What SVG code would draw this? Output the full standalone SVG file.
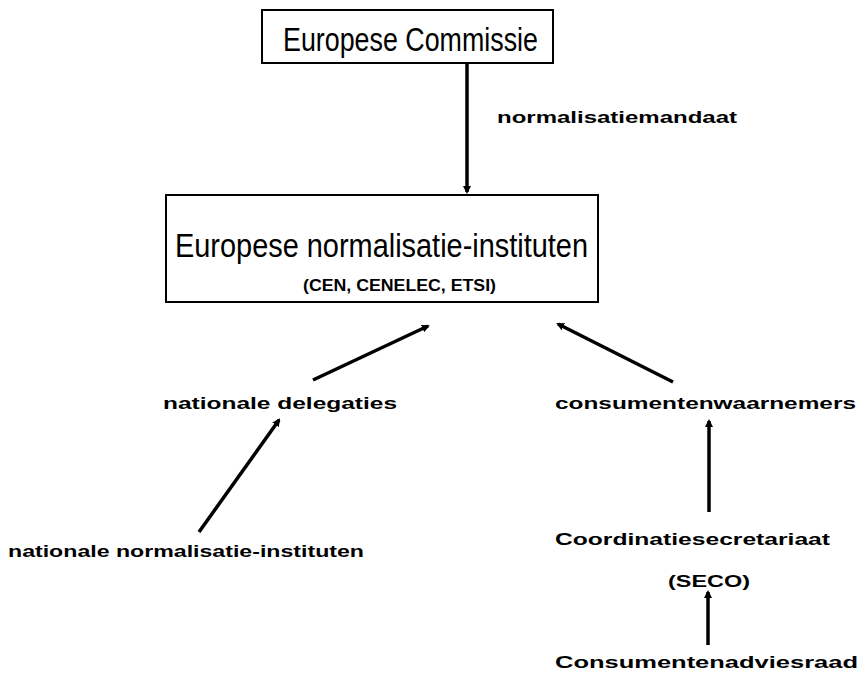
<svg xmlns="http://www.w3.org/2000/svg" width="860" height="674" viewBox="0 0 860 674">
<defs>
<marker id="ah" markerWidth="8" markerHeight="8" refX="6" refY="4" orient="auto" markerUnits="userSpaceOnUse">
<path d="M0,0 L8,4 L0,8 Z" fill="#000"/>
</marker>
<style>
.box{fill:#fff;stroke:#000;stroke-width:2}
.big{font-family:"Liberation Sans",Arial,sans-serif;font-size:34px;fill:#000}
.lbl{font-family:"Liberation Sans",Arial,sans-serif;font-size:17px;font-weight:bold;fill:#000}
.con{stroke:#000;stroke-width:3.5;fill:none;marker-end:url(#ah)}
</style>
</defs>
<rect width="860" height="674" fill="#fff"/>
<g id="connectors">
<line class="con" x1="467" y1="63" x2="467" y2="192"/>
<line class="con" x1="313" y1="380" x2="428" y2="326"/>
<line class="con" x1="199" y1="532" x2="279" y2="420"/>
<line class="con" x1="673" y1="382" x2="558" y2="324"/>
<line class="con" x1="709" y1="512" x2="709" y2="421"/>
<line class="con" x1="708" y1="645" x2="708" y2="592"/>
</g>
<g id="ec">
<rect class="box" x="262" y="10" width="291" height="53"/>
<text class="big" x="283" y="51" textLength="255" lengthAdjust="spacingAndGlyphs">Europese Commissie</text>
</g>
<g id="mandaat">
<text class="lbl" x="497" y="123" textLength="240" lengthAdjust="spacingAndGlyphs">normalisatiemandaat</text>
</g>
<g id="eni">
<rect class="box" x="166" y="195" width="432" height="107"/>
<text class="big" x="175" y="257" font-size="36" textLength="413" lengthAdjust="spacingAndGlyphs">Europese normalisatie-instituten</text>
<text class="lbl" x="303" y="291" textLength="193" lengthAdjust="spacingAndGlyphs">(CEN, CENELEC, ETSI)</text>
</g>
<g id="nd">
<text class="lbl" x="163" y="409" textLength="234" lengthAdjust="spacingAndGlyphs">nationale delegaties</text>
</g>
<g id="cw">
<text class="lbl" x="555" y="409" textLength="301" lengthAdjust="spacingAndGlyphs">consumentenwaarnemers</text>
</g>
<g id="nni">
<text class="lbl" x="8" y="557" textLength="356" lengthAdjust="spacingAndGlyphs">nationale normalisatie-instituten</text>
</g>
<g id="seco">
<text class="lbl" x="555" y="545" textLength="275" lengthAdjust="spacingAndGlyphs">Coordinatiesecretariaat</text>
<text class="lbl" x="668" y="587" textLength="82" lengthAdjust="spacingAndGlyphs">(SECO)</text>
</g>
<g id="car">
<text class="lbl" x="555" y="668" textLength="303" lengthAdjust="spacingAndGlyphs">Consumentenadviesraad</text>
</g>
</svg>
